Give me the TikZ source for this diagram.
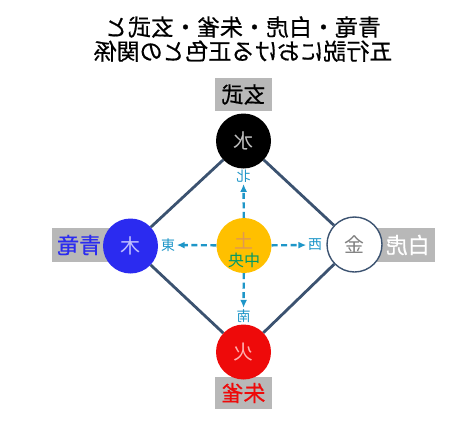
\documentclass[tikz,border=0pt]{standalone}
\usepackage{fontspec}
\usepackage{graphicx}
\setmainfont{Noto Sans CJK JP}
\newfontfamily\heavyjp[FakeBold=0.6]{Noto Sans CJK JP}
\usetikzlibrary{arrows.meta}
\newcommand{\rf}[1]{\reflectbox{#1}}
\definecolor{linec}{HTML}{3B5270}
\definecolor{arrc}{HTML}{1E96C8}
\definecolor{boxg}{HTML}{B8B8B8}
\definecolor{mublue}{HTML}{2B2BF0}
\definecolor{kared}{HTML}{EE0A0A}
\definecolor{doyel}{HTML}{FFC000}
\tikzset{
  elem/.style={circle, minimum size=55pt, inner sep=0pt, font=\fontsize{20}{20}\selectfont},
  lbl/.style={fill=boxg, inner sep=0pt, font=\heavyjp\fontsize{22}{22}\selectfont},
  dir/.style={text=arrc, inner sep=1.5pt, font=\fontsize{14}{14}\selectfont},
  edge/.style={draw=linec, line width=2.8pt},
  arr/.style={draw=arrc, line width=2.4pt, dash pattern=on 6pt off 3.5pt, -{Latex[length=8pt,width=7pt]}}
}
\begin{document}
\begin{tikzpicture}[x=1pt,y=-1pt]
\useasboundingbox (0,0) rectangle (474,437);
% title
\node[align=center, font=\heavyjp\fontsize{23}{26}\selectfont] (title) at (243,42)
  {\rf{\begin{tabular}{@{}c@{}}青竜・白虎・朱雀・玄武と\\[-3pt]五行説における正色との関係\end{tabular}}};
% label boxes
\node[lbl, minimum width=57pt, minimum height=33pt] (genbu) at (243.5,94.5) {\rf{玄武}};
\node[lbl, minimum width=57pt, minimum height=32pt, text=kared] (suzaku) at (243.5,393) {\rf{朱雀}};
\node[lbl, minimum width=70pt, minimum height=34pt, text=mublue, anchor=west] (seiryu) at (52,245) {\hspace*{-16pt}\rf{青竜}};
\node[lbl, minimum width=70pt, minimum height=34pt, text=white, anchor=east] (byakko) at (435,245) {\hspace*{16pt}\rf{白虎}};
% element circles
\node[elem, fill=black, text=white!75!black] (sui) at (243.5,141) {\rf{水}};
\node[elem, fill=kared, text=red!30!white] (ka) at (243.5,352) {\rf{火}};
\node[elem, fill=mublue, text=white!75!blue] (moku) at (130.5,246) {\rf{木}};
\node[elem, fill=white, draw=linec, line width=1.4pt, text=black!50] (kin) at (354.5,244.5) {\rf{金}};
\node[elem, fill=doyel] (do) at (244,245.5) {};
\node[text=brown!60!orange!80!white, inner sep=0pt, font=\fontsize{19}{19}\selectfont] (dochar) at (244,240.5) {\rf{土}};
\node[text=teal!80!green, inner sep=0pt, font=\fontsize{16}{16}\selectfont] (chuo) at (244,260) {\rf{中央}};
% diamond edges
\draw[edge] (sui) -- (kin);
\draw[edge] (kin) -- (ka);
\draw[edge] (ka) -- (moku);
\draw[edge] (moku) -- (sui);
% direction labels
\node[dir] (kita) at (243.5,176) {\rf{北}};
\node[dir] (minami) at (243.5,316) {\rf{南}};
\node[dir] (higashi) at (168,245) {\rf{東}};
\node[dir] (nishi) at (315,245) {\rf{西}};
% arrows
\draw[arr] (do) -- (kita);
\draw[arr] (do) -- (minami);
\draw[arr] (do) -- (higashi);
\draw[arr] (do) -- (nishi);
\end{tikzpicture}
\end{document}
